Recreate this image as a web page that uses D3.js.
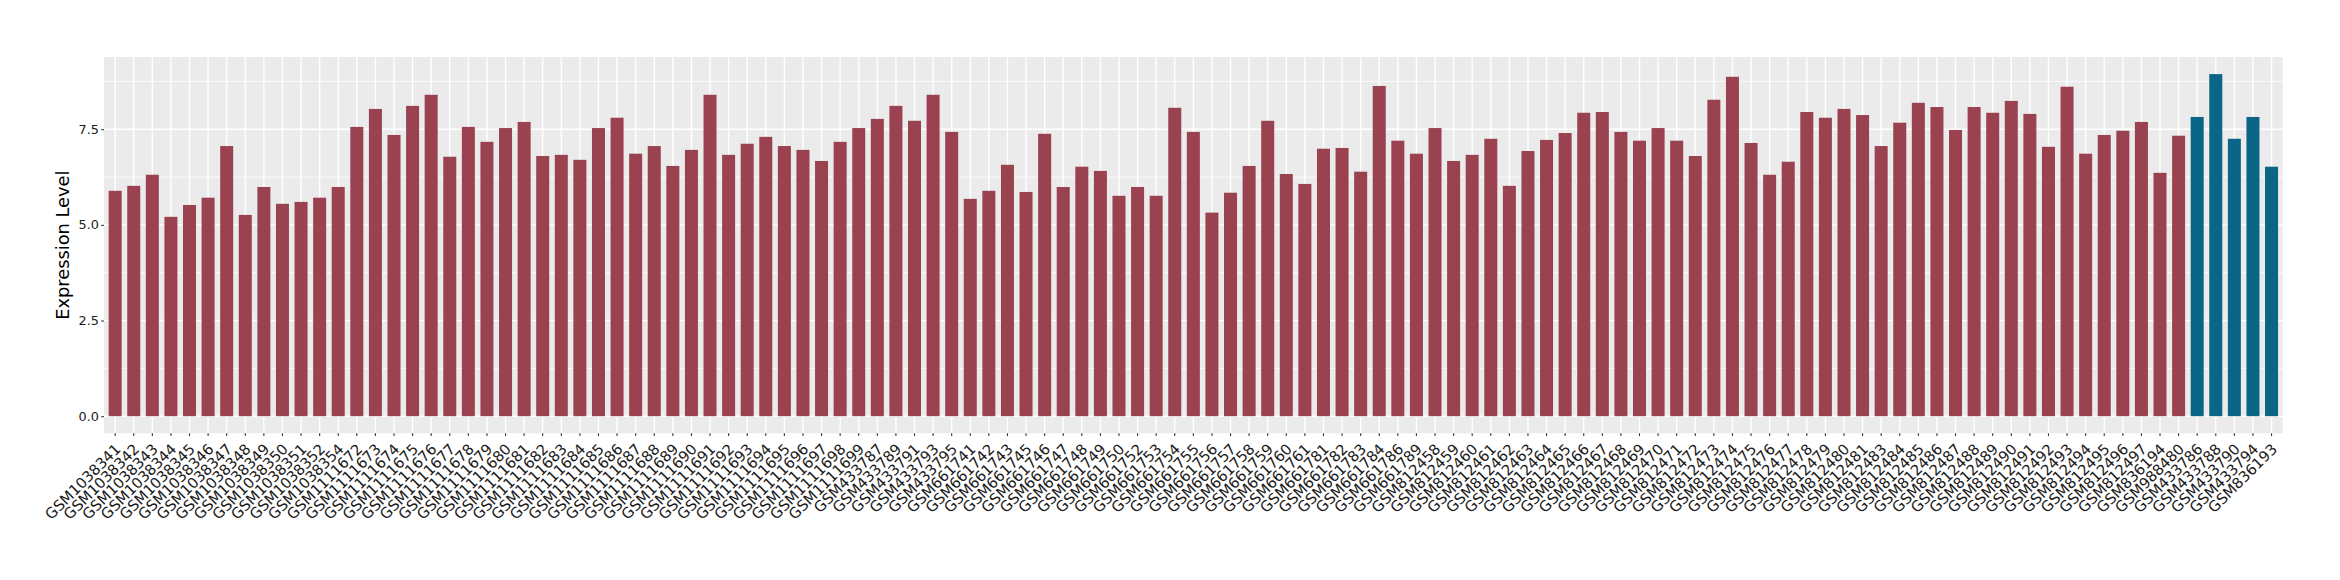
<!DOCTYPE html>
<html>
<head>
<meta charset="utf-8">
<script src="https://cdn.jsdelivr.net/npm/d3@7"></script>
<style>
  html, body { margin: 0; padding: 0; background: #ffffff; }
  svg { display: block; }
</style>
</head>
<body>
<svg id="chart" width="2340" height="580"></svg>
<script>
const samples = [
  "GSM1038341","GSM1038342","GSM1038343","GSM1038344","GSM1038345","GSM1038346","GSM1038347","GSM1038348","GSM1038349","GSM1038350","GSM1038351","GSM1038352","GSM1038354",
  "GSM1111672","GSM1111673","GSM1111674","GSM1111675","GSM1111676","GSM1111677","GSM1111678","GSM1111679","GSM1111680","GSM1111681","GSM1111682","GSM1111683","GSM1111684","GSM1111685","GSM1111686","GSM1111687","GSM1111688","GSM1111689","GSM1111690","GSM1111691","GSM1111692","GSM1111693","GSM1111694","GSM1111695","GSM1111696","GSM1111697","GSM1111698","GSM1111699",
  "GSM433787","GSM433789","GSM433791","GSM433793","GSM433795",
  "GSM661741","GSM661742","GSM661743","GSM661745","GSM661746","GSM661747","GSM661748","GSM661749","GSM661750","GSM661752","GSM661753","GSM661754","GSM661755","GSM661756","GSM661757","GSM661758","GSM661759","GSM661760","GSM661761","GSM661781","GSM661782","GSM661783","GSM661784","GSM661786","GSM661789",
  "GSM812458","GSM812459","GSM812460","GSM812461","GSM812462","GSM812463","GSM812464","GSM812465","GSM812466","GSM812467","GSM812468","GSM812469","GSM812470","GSM812471","GSM812472","GSM812473","GSM812474","GSM812475","GSM812476","GSM812477","GSM812478","GSM812479","GSM812480","GSM812481","GSM812483","GSM812484","GSM812485","GSM812486","GSM812487","GSM812488","GSM812489","GSM812490","GSM812491","GSM812492","GSM812493","GSM812494","GSM812495","GSM812496","GSM812497",
  "GSM836194","GSM988480",
  "GSM433786","GSM433788","GSM433790","GSM433794","GSM836193"
];

const expression = [
  5.89, 6.02, 6.31, 5.21, 5.52, 5.71, 7.06, 5.26, 5.99, 5.55, 5.60, 5.71, 5.99,
  7.56, 8.03, 7.35, 8.11, 8.40, 6.78, 7.56, 7.17, 7.53, 7.69, 6.80, 6.83, 6.70, 7.53, 7.80, 6.86, 7.06, 6.54, 6.96, 8.40, 6.83, 7.12, 7.30, 7.06, 6.96, 6.67, 7.17, 7.53,
  7.77, 8.11, 7.72, 8.40, 7.43,
  5.68, 5.89, 6.57, 5.86, 7.38, 5.99, 6.52, 6.41, 5.76, 5.99, 5.76, 8.06, 7.43, 5.32, 5.84, 6.54, 7.72, 6.33, 6.07, 6.99, 7.01, 6.39, 8.63, 7.20, 6.86,
  7.53, 6.67, 6.83, 7.25, 6.02, 6.93, 7.22, 7.40, 7.93, 7.95, 7.43, 7.20, 7.53, 7.20, 6.80, 8.27, 8.87, 7.14, 6.31, 6.65, 7.95, 7.80, 8.03, 7.87, 7.06, 7.67, 8.19, 8.08, 7.48, 8.08, 7.93, 8.24, 7.90, 7.04, 8.61, 6.86, 7.35, 7.46, 7.69, 6.36,
  7.33, 7.82,
  8.94, 7.25, 7.82, 6.52
];
// values are listed in sample order; the last five samples form the second group
const groupNames = ["control", "case"];
const groupCounts = [112, 5];
const groups = samples.map((s, i) => i < groupCounts[0] ? groupNames[0] : groupNames[1]);

const yTicks = [0, 2.5, 5.0, 7.5];
const yTitle = "Expression Level";

// ---------- layout ----------
const panel = { left: 104, right: 2282.7, top: 57, bottom: 433.3 };
const FONT = "'DejaVu Sans', Verdana, sans-serif";

const svg = d3.select("#chart");

const data = samples.map((s, i) => ({ sample: s, value: expression[i], group: groups[i] }));

const ymax = d3.max(expression);
const x = d3.scaleBand()
  .domain(samples)
  .range([panel.left, panel.right])
  .paddingInner(0.3)
  .paddingOuter(0.25);

const y = d3.scaleLinear()
  .domain([-0.05 * ymax, ymax * 1.05])
  .range([panel.bottom, panel.top]);

const color = d3.scaleOrdinal().domain(groupNames).range(["#9A4250", "#0B6586"]);

// panel background
svg.append("rect")
  .attr("x", panel.left).attr("y", panel.top)
  .attr("width", panel.right - panel.left)
  .attr("height", panel.bottom - panel.top)
  .attr("fill", "#EBEBEB");

const grid = svg.append("g");
const minor = yTicks.map(t => t + 1.25).filter(m => m < y.domain()[1]);
grid.selectAll("line.minor").data(minor).enter().append("line")
  .attr("x1", panel.left).attr("x2", panel.right)
  .attr("y1", d => y(d)).attr("y2", d => y(d))
  .attr("stroke", "#ffffff").attr("stroke-width", 0.75);
grid.selectAll("line.majy").data(yTicks).enter().append("line")
  .attr("x1", panel.left).attr("x2", panel.right)
  .attr("y1", d => y(d)).attr("y2", d => y(d))
  .attr("stroke", "#ffffff").attr("stroke-width", 1.4);
grid.selectAll("line.majx").data(samples).enter().append("line")
  .attr("y1", panel.top).attr("y2", panel.bottom)
  .attr("x1", d => x(d) + x.bandwidth() / 2).attr("x2", d => x(d) + x.bandwidth() / 2)
  .attr("stroke", "#ffffff").attr("stroke-width", 1.4);

// bars
svg.append("g").selectAll("rect").data(data).enter().append("rect")
  .attr("x", d => x(d.sample))
  .attr("width", x.bandwidth())
  .attr("y", d => y(d.value))
  .attr("height", d => y(0) - y(d.value))
  .attr("fill", d => color(d.group));

// y axis
const yAxis = d3.axisLeft(y).tickValues(yTicks).tickFormat(d3.format(".1f")).tickSize(2.75).tickPadding(2.4);
const gy = svg.append("g").attr("transform", `translate(${panel.left},0)`).call(yAxis);
gy.select(".domain").remove();
gy.selectAll(".tick line").attr("stroke", "#333333").attr("stroke-width", 1.1);
gy.selectAll(".tick text")
  .attr("fill", "#1A1A1A")
  .style("font-family", FONT)
  .style("font-size", "12.8px");

// x axis
const xAxis = d3.axisBottom(x).tickSize(2.75).tickPadding(0);
const gx = svg.append("g").attr("transform", `translate(0,${panel.bottom})`).call(xAxis);
gx.select(".domain").remove();
gx.selectAll(".tick line").attr("stroke", "#333333").attr("stroke-width", 1.1);
gx.selectAll(".tick text")
  .attr("fill", "#1A1A1A")
  .style("font-family", FONT)
  .style("font-size", "14.8px")
  .attr("text-anchor", "end")
  .attr("y", 0)
  .attr("dy", 0)
  .attr("transform", "translate(6.5,16.7) rotate(-45)");

// y title
svg.append("text")
  .attr("transform", `translate(69,${(panel.top + panel.bottom) / 2}) rotate(-90)`)
  .attr("text-anchor", "middle")
  .attr("fill", "#000000")
  .style("font-family", FONT)
  .style("font-size", "17.8px")
  .text(yTitle);
</script>
</body>
</html>
